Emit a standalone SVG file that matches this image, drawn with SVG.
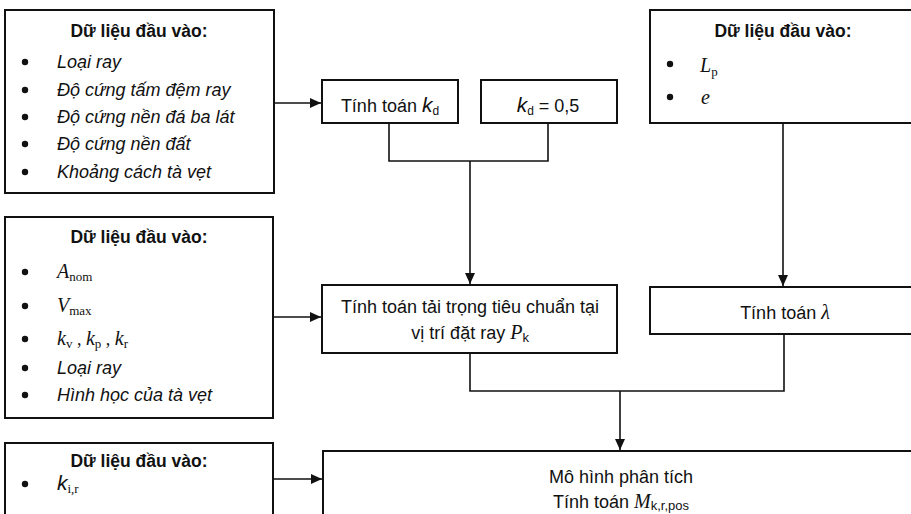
<svg xmlns="http://www.w3.org/2000/svg" width="911" height="514" viewBox="0 0 911 514">
<style>
.box{fill:#fff;stroke:#111;stroke-width:2}
.ln{fill:none;stroke:#111;stroke-width:1.6}
.t{font-family:"Liberation Sans",Arial,sans-serif;font-size:18px;fill:#111}
.h{font-family:"Liberation Sans",Arial,sans-serif;font-size:17.5px;font-weight:bold;fill:#111;text-anchor:middle}
.i{font-style:italic}
.m{font-family:"Liberation Serif","Times New Roman",serif;font-style:italic;font-size:20px}
.s{font-family:"Liberation Serif","Times New Roman",serif;font-style:normal;font-size:13px}
.ss{font-family:"Liberation Sans",Arial,sans-serif;font-style:normal;font-size:12px}
.c{text-anchor:middle}
.b{fill:#111}
</style>
<defs>
<marker id="ah" markerUnits="userSpaceOnUse" markerWidth="12" markerHeight="10" refX="11" refY="5" orient="auto">
<path d="M0,0 L11,5 L0,10 Z" fill="#111"/>
</marker>
</defs>

<g id="connectors">
<path class="ln" d="M274,103 H321" marker-end="url(#ah)"/>
<path class="ln" d="M389,123 V161 H548 V123"/>
<path class="ln" d="M470,161 V284" marker-end="url(#ah)"/>
<path class="ln" d="M274,317 H321" marker-end="url(#ah)"/>
<path class="ln" d="M783,123 V286" marker-end="url(#ah)"/>
<path class="ln" d="M470,353 V391 H784 V334"/>
<path class="ln" d="M620,391 V450" marker-end="url(#ah)"/>
<path class="ln" d="M273,479 H322" marker-end="url(#ah)"/>
</g>

<g id="input1">
<rect class="box" x="5" y="10" width="269" height="183"/>
<text class="h" x="139" y="37">Dữ liệu đầu vào:</text>
<circle class="b" cx="25" cy="62" r="3.2"/>
<circle class="b" cx="25" cy="90" r="3.2"/>
<circle class="b" cx="25" cy="117" r="3.2"/>
<circle class="b" cx="25" cy="144" r="3.2"/>
<circle class="b" cx="25" cy="172" r="3.2"/>
<text class="t i" x="57" y="68">Loại ray</text>
<text class="t i" x="57" y="96">Độ cứng tấm đệm ray</text>
<text class="t i" x="57" y="123">Độ cứng nền đá ba lát</text>
<text class="t i" x="57" y="150">Độ cứng nền đất</text>
<text class="t i" x="57" y="178">Khoảng cách tà vẹt</text>
</g>

<g id="calc-kd">
<rect class="box" x="322" y="80" width="136" height="43"/>
<text class="t c" x="390" y="112">Tính toán <tspan class="i" style="font-size:21px">k</tspan><tspan class="ss" dy="3">d</tspan></text>
</g>

<g id="kd-value">
<rect class="box" x="481" y="80" width="136" height="43"/>
<text class="t c" x="548" y="112"><tspan class="i" style="font-size:21px">k</tspan><tspan class="ss" dy="3">d</tspan><tspan dy="-3"> = 0,5</tspan></text>
</g>

<g id="input-right">
<rect class="box" x="650" y="10" width="275" height="113"/>
<text class="h" x="783" y="37">Dữ liệu đầu vào:</text>
<circle class="b" cx="670" cy="64" r="3.2"/>
<circle class="b" cx="670" cy="97" r="3.2"/>
<text class="t" x="700" y="72"><tspan class="m">L</tspan><tspan class="s" dy="4">p</tspan></text>
<text class="t" x="701" y="104"><tspan class="m">e</tspan></text>
</g>

<g id="input2">
<rect class="box" x="5" y="217" width="268" height="201"/>
<text class="h" x="139" y="243">Dữ liệu đầu vào:</text>
<circle class="b" cx="25" cy="272" r="3.2"/>
<circle class="b" cx="25" cy="306" r="3.2"/>
<circle class="b" cx="25" cy="339" r="3.2"/>
<circle class="b" cx="25" cy="368" r="3.2"/>
<circle class="b" cx="25" cy="395" r="3.2"/>
<text class="t" x="57" y="278"><tspan class="m">A</tspan><tspan class="s" dy="3">nom</tspan></text>
<text class="t" x="57" y="312"><tspan class="m">V</tspan><tspan class="s" dy="3">max</tspan></text>
<text class="t" x="57" y="345"><tspan class="m">k</tspan><tspan class="s" dy="3">v</tspan><tspan class="s" dy="-3" style="font-size:18px"> , </tspan><tspan class="m">k</tspan><tspan class="s" dy="3">p</tspan><tspan class="s" dy="-3" style="font-size:18px"> , </tspan><tspan class="m">k</tspan><tspan class="s" dy="3">r</tspan></text>
<text class="t i" x="57" y="374">Loại ray</text>
<text class="t i" x="57" y="401">Hình học của tà vẹt</text>
</g>

<g id="calc-pk">
<rect class="box" x="322" y="285" width="295" height="68"/>
<text class="t c" x="470" y="313">Tính toán tải trọng tiêu chuẩn tại</text>
<text class="t c" x="470" y="339">vị trí đặt ray <tspan class="m">P</tspan><tspan class="ss" dy="3" style="font-size:13px">k</tspan></text>
</g>

<g id="calc-lambda">
<rect class="box" x="650" y="287" width="275" height="47"/>
<text class="t c" x="785" y="319">Tính toán <tspan class="m">λ</tspan></text>
</g>

<g id="input3">
<rect class="box" x="5" y="443" width="268" height="90"/>
<text class="h" x="139" y="467">Dữ liệu đầu vào:</text>
<circle class="b" cx="25" cy="484" r="3.2"/>
<text class="t" x="57" y="490"><tspan class="i" style="font-size:21px">k</tspan><tspan class="s" dy="3">i,r</tspan></text>
</g>

<g id="analysis">
<rect class="box" x="323" y="451" width="600" height="90"/>
<text class="t c" x="621" y="483">Mô hình phân tích</text>
<text class="t c" x="621" y="508">Tính toán <tspan class="m">M</tspan><tspan class="ss" dy="2" style="font-size:13px">k,r,pos</tspan></text>
</g>
</svg>
